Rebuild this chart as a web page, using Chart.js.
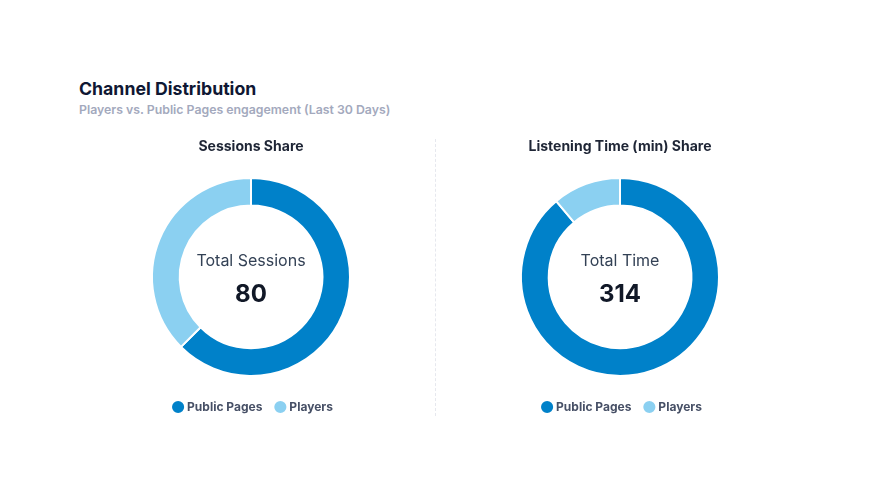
<!DOCTYPE html>
<html>
<head>
<meta charset="utf-8">
<script src="https://cdn.jsdelivr.net/npm/chart.js@4/dist/chart.umd.min.js"></script>
<style>
  html, body { margin: 0; padding: 0; background: #fff; }
  body { width: 882px; height: 496px; position: relative; font-family: Inter, sans-serif; }
  .title { position: absolute; left: 79px; top: 78px; font-size: 17.7px; font-weight: 700; color: #0f1733; }
  .subtitle { position: absolute; left: 79px; top: 102px; font-size: 12.3px; font-weight: 600; color: #a3a9bd; }
  .panel { position: absolute; top: 135px; width: 368px; height: 288px; }
  .left { left: 67px; }
  .right { left: 436px; }
  .divider { position: absolute; left: 435px; top: 139px; height: 277px; border-left: 1px dashed #e6e8ee; }
</style>
</head>
<body>
<div class="title">Channel Distribution</div>
<div class="subtitle">Players vs. Public Pages engagement (Last 30 Days)</div>
<div class="panel left"><canvas id="sessions"></canvas></div>
<div class="divider"></div>
<div class="panel right"><canvas id="listening"></canvas></div>
<script>
// data
const channels = ['Public Pages', 'Players'];
const sessionValues = [50, 30];
const listeningValues = [279, 35];
const channelColors = ['#0081c9', '#8bd0f1'];

// draw the total in the middle of the ring
const centerText = {
    id: 'centerText',
    afterDraw(chart, args, opts) {
        const { ctx, chartArea } = chart;
        const x = (chartArea.left + chartArea.right) / 2;
        const y = (chartArea.top + chartArea.bottom) / 2;
        const total = chart.data.datasets[0].data.reduce((a, b) => a + b, 0);
        ctx.save();
        ctx.textAlign = 'center';
        ctx.textBaseline = 'middle';
        ctx.fillStyle = '#334155';
        ctx.font = '400 16px Inter';
        ctx.fillText(opts.label, x, y - 16);
        ctx.fillStyle = '#111827';
        ctx.font = '700 24px Inter';
        ctx.fillText(String(total), x, y + 18);
        ctx.restore();
    },
};

// the legend row sits a touch right of centre
const legendNudge = {
    id: 'legendNudge',
    afterLayout(chart) {
        chart.legend.left += 3;
        chart.legend.right += 3;
    },
};

function donut(id, title, label, values) {
    return new Chart(document.getElementById(id), {
        type: 'doughnut',
        data: {
            labels: channels,
            datasets: [{
                data: values,
                backgroundColor: channelColors,
                borderColor: '#ffffff',
                borderWidth: 2,
            }],
        },
        options: {
            animation: false,
            responsive: true,
            maintainAspectRatio: false,
            cutout: '72%',
            radius: 99,
            plugins: {
                title: {
                    display: true,
                    text: title,
                    color: '#1e2535',
                    font: { family: 'Inter', size: 14, weight: '700' },
                    padding: { top: 3, bottom: 13 },
                },
                legend: {
                    position: 'bottom',
                    labels: {
                        usePointStyle: true,
                        pointStyle: 'circle',
                        boxWidth: 6,
                        boxHeight: 10,
                        padding: 15,
                        color: '#475066',
                        font: { family: 'Inter', size: 12, weight: '700' },
                    },
                },
                tooltip: { enabled: false },
                centerText: { label },
            },
        },
        plugins: [centerText, legendNudge],
    });
}

donut('sessions', 'Sessions Share', 'Total Sessions', sessionValues);
donut('listening', 'Listening Time (min) Share', 'Total Time', listeningValues);
</script>
</body>
</html>
